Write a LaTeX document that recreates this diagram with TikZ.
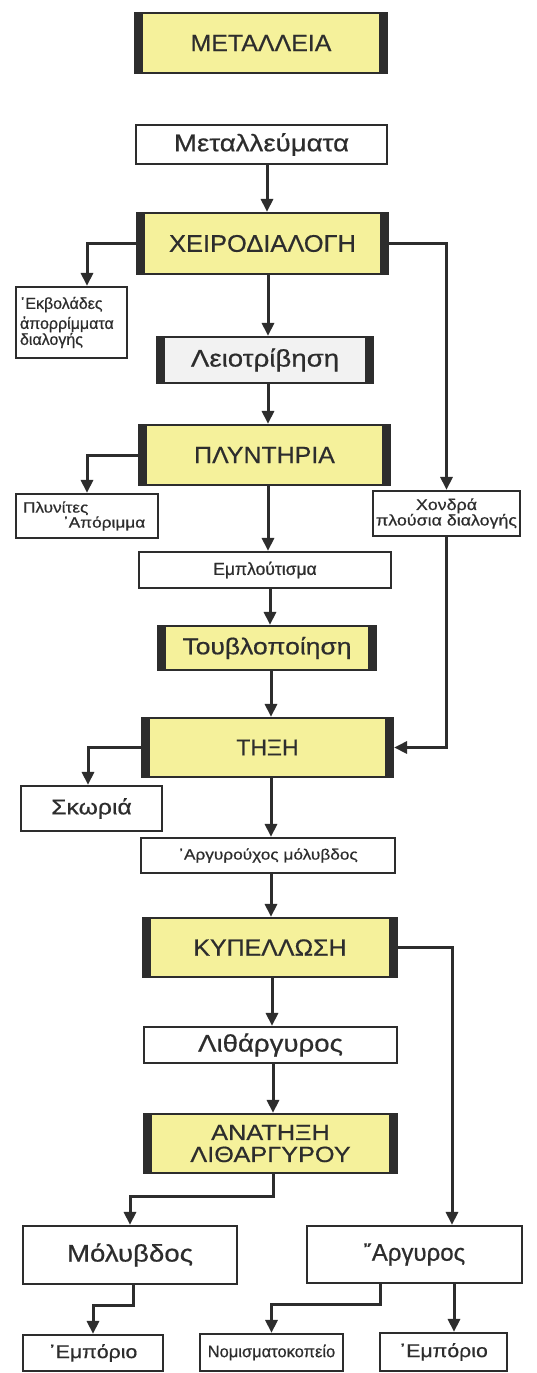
\documentclass[tikz,border=0pt]{standalone}
\usepackage{fontspec}
\setmainfont{Liberation Sans}[FakeBold=0.6]
\newfontfamily\capf[FakeStretch=1.06,FakeBold=0.6]{Liberation Sans}
\newfontfamily\lowf[FakeStretch=1.15,FakeBold=0.6]{Liberation Sans}
\usetikzlibrary{arrows.meta}
\definecolor{boxyellow}{RGB}{245,241,155}
\definecolor{inkgray}{RGB}{45,45,45}
\definecolor{palegray}{RGB}{242,242,242}
\newcommand{\fs}[1]{\fontsize{#1}{#1}\selectfont}
\tikzset{
  x=1pt, y=-1pt,
  plainbox/.style={draw=inkgray, line width=2.2pt, fill=white, rectangle, inner sep=0pt, align=center, text=inkgray},
  procbox/.style={plainbox, fill=boxyellow,
    path picture={
      \fill[inkgray] (path picture bounding box.north west) rectangle ([xshift=8pt]path picture bounding box.south west);
      \fill[inkgray] (path picture bounding box.north east) rectangle ([xshift=-8pt]path picture bounding box.south east);
    }},
  graybox/.style={procbox, fill=palegray},
  arr/.style={draw=inkgray, line width=3pt, -{Triangle[length=13pt,width=12pt]}},
}
\begin{document}
\begin{tikzpicture}
\useasboundingbox (0,0) rectangle (536,1373);
\fill[white] (0,0) rectangle (536,1373);

\node[procbox, minimum width=252pt, minimum height=60pt, font=\capf\fs{23.5}] (M1) at (261,43) {ΜΕΤΑΛΛΕΙΑ};
\node[plainbox, minimum width=251pt, minimum height=39pt, font=\lowf\fs{24}] (M2) at (261.5,144.5) {Μεταλλεύματα};
\node[procbox, minimum width=251pt, minimum height=61pt, font=\capf\fs{24}] (X) at (262.5,243.5) {ΧΕΙΡΟΔΙΑΛΟΓΗ};
\node[plainbox, minimum width=111pt, minimum height=71pt, font=\fs{16}, align=left, text width=103pt, inner xsep=4pt] (E) at (71.5,322.5) {\baselineskip=20pt ᾿Εκβολάδες\\ἀπορρίμματα\\διαλογής};
\node[graybox, minimum width=216pt, minimum height=46pt, font=\lowf\fs{24}] (L) at (265,360) {Λειοτρίβηση};
\node[procbox, minimum width=251pt, minimum height=60pt, font=\capf\fs{23.5}] (P) at (264.5,455) {ΠΛΥΝΤΗΡΙΑ};
\node[plainbox, minimum width=142pt, minimum height=44pt, font=\lowf\fs{15}, align=left, text width=128pt, inner xsep=7pt] (Pl) at (87,516) {\baselineskip=16pt Πλυνίτες\\\hspace*{40pt}᾿Απόριμμα};
\node[plainbox, minimum width=147pt, minimum height=45pt, font=\lowf\fs{15.5}] (Ch) at (446.5,513.5) {\baselineskip=16pt Χονδρά\\πλούσια διαλογής};
\node[plainbox, minimum width=252pt, minimum height=36pt, font=\fs{17.5}] (Em) at (265,570) {Εμπλούτισμα};
\node[procbox, minimum width=218pt, minimum height=44pt, font=\lowf\fs{23}] (T) at (267,648) {Τουβλοποίηση};
\node[procbox, minimum width=251pt, minimum height=59pt, font=\fs{23}] (TH) at (267.5,747.5) {ΤΗΞΗ};
\node[plainbox, minimum width=141pt, minimum height=45pt, font=\lowf\fs{21.5}] (S) at (91.5,808.5) {Σκωριά};
\node[plainbox, minimum width=254pt, minimum height=35pt, font=\lowf\fs{15}] (A) at (268,855.5) {᾿Αργυρούχος μόλυβδος};
\node[procbox, minimum width=254pt, minimum height=59pt, font=\capf\fs{23.5}] (K) at (270,947.5) {ΚΥΠΕΛΛΩΣΗ};
\node[plainbox, minimum width=253pt, minimum height=36pt, font=\lowf\fs{24}] (Li) at (270.5,1045) {Λιθάργυρος};
\node[procbox, minimum width=253pt, minimum height=59pt, font=\lowf\fs{22}] (AN) at (270.5,1143.5) {\baselineskip=24pt ΑΝΑΤΗΞΗ\\ΛΙΘΑΡΓΥΡΟΥ};
\node[plainbox, minimum width=214pt, minimum height=58pt, font=\lowf\fs{24}] (Mo) at (130,1255) {Μόλυβδος};
\node[plainbox, minimum width=215pt, minimum height=57pt, font=\fs{24}] (Ar) at (414.5,1254.5) {῎Αργυρος};
\node[plainbox, minimum width=140pt, minimum height=36pt, font=\lowf\fs{18.5}] (E1) at (93,1353) {᾿Εμπόριο};
\node[plainbox, minimum width=143pt, minimum height=37pt, font=\fs{16.5}] (N) at (271.5,1352.5) {Νομισματοκοπείο};
\node[plainbox, minimum width=127pt, minimum height=38pt, font=\lowf\fs{18.5}] (E2) at (443.5,1352) {᾿Εμπόριο};

% helper coordinates for connector columns
\coordinate (s1) at (267,0);
\coordinate (s2) at (268,0);
\coordinate (s4) at (270,0);
\coordinate (s5) at (271,0);
\coordinate (s6) at (272,0);
\coordinate (b1) at (87,0);
\coordinate (b2) at (88,0);
\coordinate (b3) at (452,0);
\coordinate (b4) at (454,0);
\coordinate (j1) at (273,1196);
\coordinate (j2) at (133,1305);
\coordinate (j3) at (380,1304);

% main spine
\draw[arr] (M2.south -| s1) -- (X.north -| s1);
\draw[arr] (X.south -| s2) -- (L.north -| s2);
\draw[arr] (L.south -| s2) -- (P.north -| s2);
\draw[arr] (P.south -| s2) -- (Em.north -| s2);
\draw[arr] (Em.south -| s4) -- (T.north -| s4);
\draw[arr] (T.south -| s5) -- (TH.north -| s5);
\draw[arr] (TH.south -| s5) -- (A.north -| s5);
\draw[arr] (A.south -| s5) -- (K.north -| s5);
\draw[arr] (K.south -| s6) -- (Li.north -| s6);
\draw[arr] (Li.south -| j1) -- (AN.north -| j1);

% side branches
\draw[arr] (X.west) -| (E.north -| b1);
\draw[arr] (X.east) -| (Ch.north);
\draw[arr] (P.west) -| (Pl.north -| b1);
\draw[arr] (Ch.south) |- (TH.east);
\draw[arr] (TH.west) -| (S.north -| b2);
\draw[arr] (K.east) -| (Ar.north -| b3);

% bottom
\draw[arr] (AN.south -| j1) -- (j1) -| (Mo.north);
\draw[arr] (Mo.south -| j2) -- (j2) -| (E1.north);
\draw[arr] (Ar.south -| j3) -- (j3) -| (N.north);
\draw[arr] (Ar.south -| b4) -- (E2.north -| b4);
\end{tikzpicture}
\end{document}
